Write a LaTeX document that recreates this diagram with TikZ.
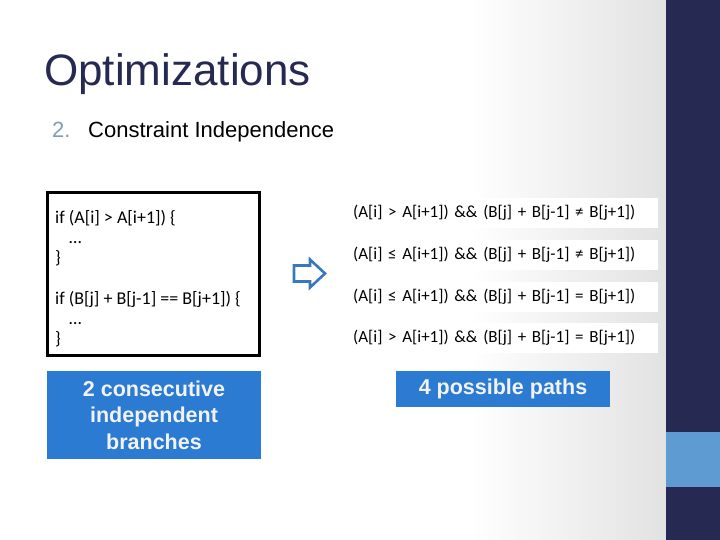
\documentclass[tikz,border=0pt]{standalone}
\usepackage{fontspec}
\setmainfont{Liberation Sans}
\newfontfamily\calibri{Carlito}

\definecolor{navy}{HTML}{262A52}
\definecolor{boxblue}{HTML}{2B7BD2}
\definecolor{barblue}{HTML}{5E9BD2}
\definecolor{arrowblue}{HTML}{3A78BE}
\definecolor{numgray}{HTML}{7F9DB3}
\definecolor{fadegray}{HTML}{E2E2E2}

\tikzset{
  pathrow/.style={fill=white, anchor=west, minimum height=30, text width=297,
    inner xsep=8, align=left, font=\calibri\fontsize{17}{20}\selectfont},
  bluebox/.style={fill=boxblue, text=white!95!black, align=center, inner sep=0,
    minimum width=214, font=\bfseries\fontsize{21.5}{26.5}\selectfont}
}

\begin{document}
\begin{tikzpicture}[x=1pt,y=-1pt]

\useasboundingbox (0,0) rectangle (720,540);
\fill[white] (0,0) rectangle (720,540);
\shade[left color=white, right color=fadegray] (470,0) rectangle (666,540);
\fill[navy] (666,0) rectangle (720,540);
\fill[barblue] (666,432) rectangle (720,487);

% title and subtitle
\node (title) [anchor=base west, inner sep=0, text=navy,
  font=\fontsize{44}{50}\selectfont] at (44,86) {Optimizations};
\node (num) [anchor=base west, inner sep=0, text=numgray,
  font=\fontsize{22}{26}\selectfont] at (52,138) {2.};
\node (sub) [anchor=base west, inner sep=0,
  font=\fontsize{22}{26}\selectfont] at (88,138) {Constraint Independence};

% code box
\draw[line width=3] (47,193) rectangle (259,355);
\node (code) [anchor=north west, inner sep=0, align=left,
  font=\calibri\fontsize{18}{20.2}\selectfont] at (55,210)
  {if (A[i] > A[i+1]) \{\\
   \hspace*{14pt}…\\
   \}\\[20.2pt]
   if (B[j] + B[j-1] == B[j+1]) \{\\
   \hspace*{14pt}…\\
   \}};

% hollow arrow
\coordinate (tip) at (325,273.5);
\draw[arrowblue, line width=2.6, line join=miter]
  (294,265.5) -- (310,265.5) -- (310,259.5) -- (tip) -- (310,287.5)
  -- (310,281.5) -- (294,281.5) -- cycle;

% the four paths
\node (p1) [pathrow] at (345,213) {(A[i] > A[i+1]) \&\& (B[j] + B[j-1] ≠ B[j+1])};
\node (p2) [pathrow] at (345,255) {(A[i] ≤ A[i+1]) \&\& (B[j] + B[j-1] ≠ B[j+1])};
\node (p3) [pathrow] at (345,297) {(A[i] ≤ A[i+1]) \&\& (B[j] + B[j-1] = B[j+1])};
\node (p4) [pathrow] at (345,338) {(A[i] > A[i+1]) \&\& (B[j] + B[j-1] = B[j+1])};

% blue labels
\node (branches) [bluebox, minimum height=88] at (154,415)
  {2 consecutive\\independent\\branches};
\node (paths) [bluebox, minimum height=36] at (503,389) {4 possible paths};

\end{tikzpicture}
\end{document}
